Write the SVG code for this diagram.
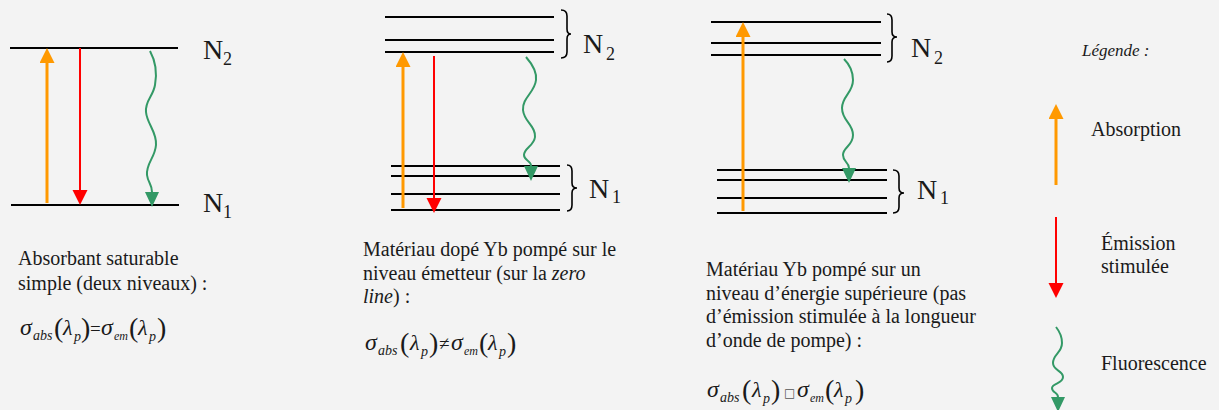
<svg xmlns="http://www.w3.org/2000/svg" width="1219" height="410" viewBox="0 0 1219 410">
<style>
.bg{fill:#f3f3f3}
.lvl{stroke:#000;stroke-width:2;fill:none}
.brace{stroke:#000;stroke-width:1.6;fill:none}
.abs{stroke:#ff9900;stroke-width:3;fill:none}
.em{stroke:#ff0000;stroke-width:2;fill:none}
.fl{stroke:#339966;stroke-width:2;fill:none}
text{fill:#1a1a1a}
.t{font-size:20px}
.n{font-size:28px}
.ns{font-size:18px}
.it{font-style:italic}
.g{font-size:24px;font-style:italic}
.l{font-size:22px;font-style:italic}
.s{font-size:14px;font-style:italic}
.s2{font-size:12px;font-style:italic}
.sp{font-size:14px;font-style:italic}
.par{font-size:28px;font-style:normal}
.op{font-size:19px;font-style:normal}
.leg{font-size:17px;font-style:italic}
</style>
<defs>
<marker id="hA" markerUnits="userSpaceOnUse" markerWidth="16" markerHeight="16" refX="0" refY="7.5" orient="auto"><path d="M0,0 L15,7.5 L0,15 z" fill="#ff9900"/></marker>
<marker id="hE" markerUnits="userSpaceOnUse" markerWidth="16" markerHeight="16" refX="0" refY="7.5" orient="auto"><path d="M0,0 L15,7.5 L0,15 z" fill="#ff0000"/></marker>
<marker id="hF" markerUnits="userSpaceOnUse" markerWidth="16" markerHeight="16" refX="0" refY="7" orient="auto"><path d="M0,0 L15,7 L0,14 z" fill="#339966"/></marker>
</defs>
<rect class="bg" x="0" y="0" width="1219" height="410"/>

<g font-family="'Liberation Serif', 'Times New Roman', serif">
<g id="panel1">
<line class="lvl" x1="10" y1="48" x2="178" y2="48"/>
<line class="lvl" x1="11" y1="205" x2="179" y2="205"/>
<text class="n" x="203" y="59">N<tspan class="ns" x="223" y="65">2</tspan></text>
<text class="n" x="203" y="212">N<tspan class="ns" x="223" y="218">1</tspan></text>
<text class="t" x="18" y="265">Absorbant saturable</text>
<text class="t" x="18" y="290">simple (deux niveaux) :</text>
<text class="it"><tspan class="g" x="20" y="335">σ</tspan><tspan class="s" x="33" y="340">abs</tspan><tspan class="par" x="54" y="337">(</tspan><tspan class="l" x="63" y="335">λ</tspan><tspan class="sp" x="74" y="341">p</tspan><tspan class="par" x="81" y="337">)</tspan><tspan class="op" x="90" y="335">=</tspan><tspan class="g" x="101" y="335">σ</tspan><tspan class="s2" x="114" y="340">em</tspan><tspan class="par" x="129" y="337">(</tspan><tspan class="l" x="138" y="335">λ</tspan><tspan class="sp" x="149" y="341">p</tspan><tspan class="par" x="157" y="337">)</tspan></text>
</g>

<g id="panel2">
<line class="lvl" x1="385" y1="17" x2="554" y2="17"/>
<line class="lvl" x1="385" y1="40" x2="554" y2="40"/>
<line class="lvl" x1="385" y1="52" x2="554" y2="52"/>
<line class="lvl" x1="391" y1="166" x2="560" y2="166"/>
<line class="lvl" x1="391" y1="176" x2="560" y2="176"/>
<line class="lvl" x1="391" y1="194" x2="560" y2="194"/>
<line class="lvl" x1="391" y1="210" x2="560" y2="210"/>
<path class="brace" d="M561,10 Q567,10 567,16 L567,29 Q567,34 571,34 Q567,34 567,39 L567,52 Q567,58 561,58"/>
<path class="brace" d="M567,165 Q572,165 572,171 L572,183 Q572,188 577,188 Q572,188 572,193 L572,205 Q572,211 567,211"/>
<text class="n" x="583" y="53">N<tspan class="ns" x="606" y="60">2</tspan></text>
<text class="n" x="589" y="198">N<tspan class="ns" x="612" y="203">1</tspan></text>
<text class="t" x="363" y="256">Matériau dopé Yb pompé sur le</text>
<text class="t" x="363" y="280">niveau émetteur (sur la <tspan class="it">zero</tspan></text>
<text class="t" x="363" y="303"><tspan class="it">line</tspan>) :</text>
<text class="it"><tspan class="g" x="365" y="350">σ</tspan><tspan class="s" x="378" y="355">abs</tspan><tspan class="par" x="400" y="352">(</tspan><tspan class="l" x="410" y="350">λ</tspan><tspan class="sp" x="421" y="356">p</tspan><tspan class="par" x="429" y="352">)</tspan><tspan class="op" x="439" y="350">≠</tspan><tspan class="g" x="451" y="350">σ</tspan><tspan class="s2" x="464" y="355">em</tspan><tspan class="par" x="479" y="352">(</tspan><tspan class="l" x="488" y="350">λ</tspan><tspan class="sp" x="499" y="356">p</tspan><tspan class="par" x="507" y="352">)</tspan></text>
</g>

<g id="panel3">
<line class="lvl" x1="711" y1="22" x2="881" y2="22"/>
<line class="lvl" x1="711" y1="43" x2="881" y2="43"/>
<line class="lvl" x1="711" y1="55" x2="881" y2="55"/>
<line class="lvl" x1="717" y1="170" x2="887" y2="170"/>
<line class="lvl" x1="717" y1="180" x2="887" y2="180"/>
<line class="lvl" x1="717" y1="198" x2="887" y2="198"/>
<line class="lvl" x1="717" y1="213" x2="887" y2="213"/>
<path class="brace" d="M887,14 Q892,14 892,20 L892,32 Q892,37 897,37 Q892,37 892,42 L892,56 Q892,62 887,62"/>
<path class="brace" d="M893,170 Q899,170 899,176 L899,188 Q899,193 904,193 Q899,193 899,198 L899,207 Q899,213 893,213"/>
<text class="n" x="911" y="57">N<tspan class="ns" x="934" y="64">2</tspan></text>
<text class="n" x="917" y="199">N<tspan class="ns" x="940" y="204">1</tspan></text>
<text class="t" x="706" y="276">Matériau Yb pompé sur un</text>
<text class="t" x="706" y="300">niveau d’énergie supérieure (pas</text>
<text class="t" x="706" y="323">d’émission stimulée à la longueur</text>
<text class="t" x="706" y="347">d’onde de pompe) :</text>
<text class="it"><tspan class="g" x="707" y="397">σ</tspan><tspan class="s" x="720" y="402">abs</tspan><tspan class="par" x="742" y="399">(</tspan><tspan class="l" x="752" y="397">λ</tspan><tspan class="sp" x="763" y="403">p</tspan><tspan class="par" x="771" y="399">)</tspan><tspan x="784" y="397" font-family="'DejaVu Sans', sans-serif" style="font-size:12px;font-style:normal;fill:#555">□</tspan><tspan class="g" x="797" y="397">σ</tspan><tspan class="s2" x="810" y="402">em</tspan><tspan class="par" x="825" y="399">(</tspan><tspan class="l" x="834" y="397">λ</tspan><tspan class="sp" x="845" y="403">p</tspan><tspan class="par" x="855" y="399">)</tspan></text>
</g>

<g id="legend">
<text class="leg" x="1082" y="56">Légende :</text>
<text class="t" x="1091" y="136">Absorption</text>
<text class="t" x="1101" y="250">Émission</text>
<text class="t" x="1101" y="273">stimulée</text>
<text class="t" x="1101" y="370">Fluorescence</text>
</g>
</g>

<g id="connectors">
<line class="abs" x1="47" y1="203" x2="47" y2="63" marker-end="url(#hA)"/>
<line class="em" x1="80" y1="48" x2="80" y2="190" marker-end="url(#hE)"/>
<path class="fl" d="M150,51 C156,62 157,74 155,85 C153,97 145,100 146,112 C147,124 157,132 156,145 C155,158 146,163 147,175 C148,183 152,184 152,192" marker-end="url(#hF)"/>
<line class="abs" x1="403" y1="208" x2="403" y2="67" marker-end="url(#hA)"/>
<line class="em" x1="434" y1="56" x2="434" y2="198" marker-end="url(#hE)"/>
<path class="fl" d="M526,57 C533,65 537,72 536,80 C535,92 522,98 523,110 C524,122 536,126 535,137 C534,146 524,148 524,155 C524,161 531,160 531,166" marker-end="url(#hF)"/>
<line class="abs" x1="743" y1="211" x2="743" y2="37" marker-end="url(#hA)"/>
<path class="fl" d="M844,59 C850,65 853,72 853,80 C853,93 842,96 842,108 C842,121 853,123 853,135 C853,146 843,147 843,155 C843,162 849,162 849,168" marker-end="url(#hF)"/>
<line class="abs" x1="1056" y1="185" x2="1056" y2="119" marker-end="url(#hA)"/>
<line class="em" x1="1056" y1="217" x2="1056" y2="283" marker-end="url(#hE)"/>
<path class="fl" d="M1056,327 C1060,332 1062,337 1062,343 C1062,353 1053,354 1053,363 C1053,371 1063,370 1063,377 C1063,384 1052,383 1052,388 C1052,393 1058,392 1058,397" marker-end="url(#hF)"/>
</g>
</svg>
